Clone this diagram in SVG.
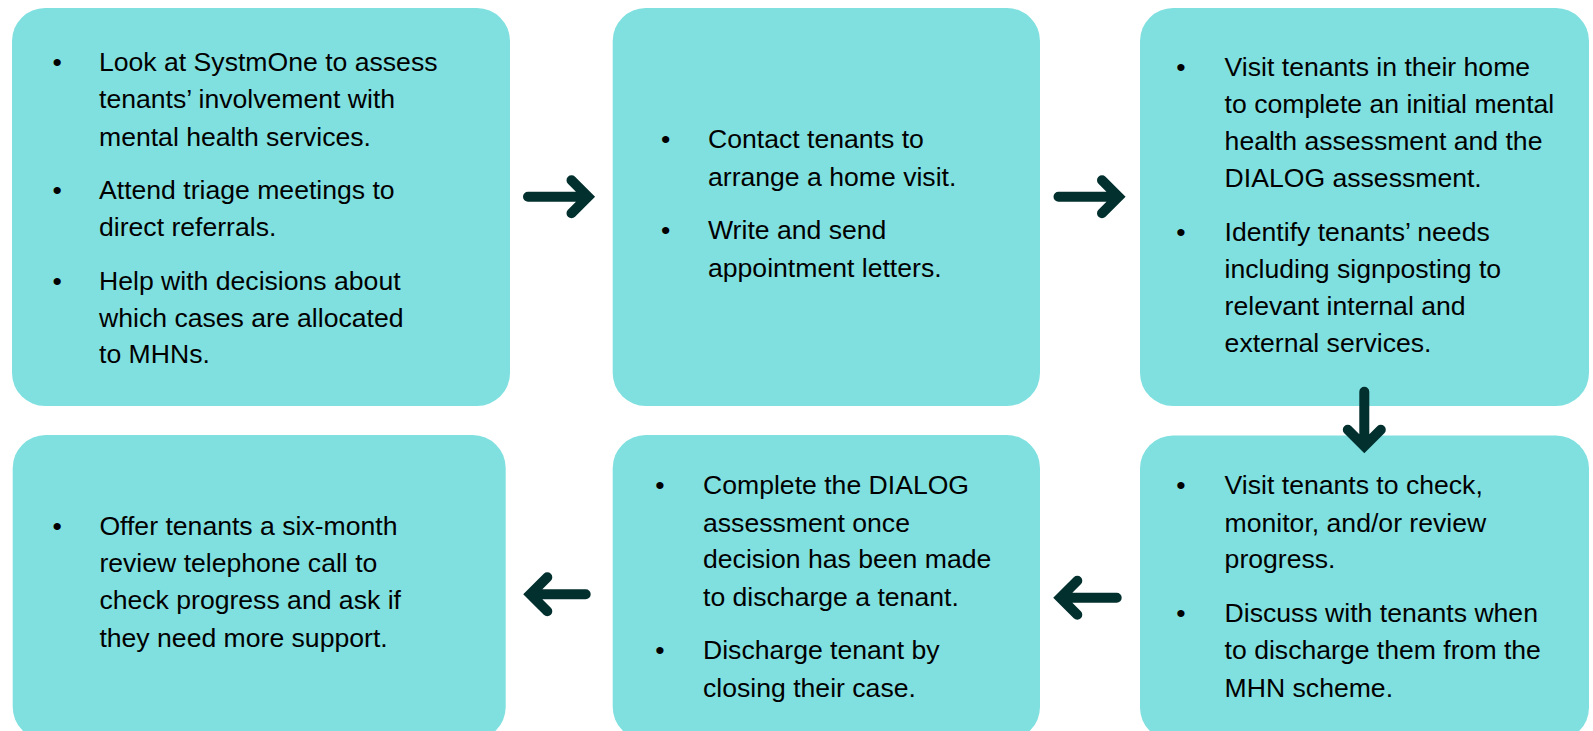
<svg xmlns="http://www.w3.org/2000/svg" width="1593" height="731" viewBox="0 0 1593 731">
<style>
.box{fill:#80E0E0}
.t{font-family:"Liberation Sans",Arial,sans-serif;font-size:26.6px;fill:#000}
.arr{fill:none;stroke:#02302E;stroke-width:10;stroke-linecap:round;stroke-linejoin:miter}
</style>
<rect width="1593" height="731" fill="#fff"/>
<g id="node1">
<rect class="box" x="12" y="8" width="498" height="398" rx="33"/>
<text class="t" x="52.6" y="71">•</text>
<text class="t" x="52.6" y="199.3">•</text>
<text class="t" x="52.6" y="290">•</text>
<text class="t" x="99"><tspan x="99" y="71">Look at SystmOne to assess</tspan><tspan x="99" y="108">tenants’ involvement with</tspan><tspan x="99" y="145.7">mental health services.</tspan><tspan x="99" y="199.3">Attend triage meetings to</tspan><tspan x="99" y="236">direct referrals.</tspan><tspan x="99" y="290">Help with decisions about</tspan><tspan x="99" y="326.7">which cases are allocated</tspan><tspan x="99" y="363.3">to MHNs.</tspan></text>
</g>
<g id="node2">
<rect class="box" x="612.7" y="8" width="427.3" height="398" rx="33"/>
<text class="t" x="661" y="148.3">•</text>
<text class="t" x="661" y="239.3">•</text>
<text class="t"><tspan x="708" y="148.3">Contact tenants to</tspan><tspan x="708" y="185.7">arrange a home visit.</tspan><tspan x="708" y="239.3">Write and send</tspan><tspan x="708" y="276.7">appointment letters.</tspan></text>
</g>
<g id="node3">
<rect class="box" x="1140" y="8" width="449" height="398" rx="33"/>
<text class="t" x="1176.3" y="76">•</text>
<text class="t" x="1176.3" y="240.7">•</text>
<text class="t"><tspan x="1224.6" y="76">Visit tenants in their home</tspan><tspan x="1224.6" y="112.7">to complete an initial mental</tspan><tspan x="1224.6" y="150">health assessment and the</tspan><tspan x="1224.6" y="187.3">DIALOG assessment.</tspan><tspan x="1224.6" y="240.7">Identify tenants’ needs</tspan><tspan x="1224.6" y="278.3">including signposting to</tspan><tspan x="1224.6" y="315">relevant internal and</tspan><tspan x="1224.6" y="352.3">external services.</tspan></text>
</g>
<g id="node4">
<rect class="box" x="12.7" y="435" width="493" height="305" rx="33"/>
<text class="t" x="52.6" y="535">•</text>
<text class="t"><tspan x="99.4" y="535">Offer tenants a six-month</tspan><tspan x="99.4" y="572.3">review telephone call to</tspan><tspan x="99.4" y="609.3">check progress and ask if</tspan><tspan x="99.4" y="646.7">they need more support.</tspan></text>
</g>
<g id="node5">
<rect class="box" x="612.7" y="435" width="427.3" height="305" rx="33"/>
<text class="t" x="655.3" y="494.3">•</text>
<text class="t" x="655.3" y="659.3">•</text>
<text class="t"><tspan x="703" y="494.3">Complete the DIALOG</tspan><tspan x="703" y="531.7">assessment once</tspan><tspan x="703" y="568.3">decision has been made</tspan><tspan x="703" y="605.7">to discharge a tenant.</tspan><tspan x="703" y="659.3">Discharge tenant by</tspan><tspan x="703" y="696.7">closing their case.</tspan></text>
</g>
<g id="node6">
<rect class="box" x="1140" y="435.5" width="449" height="305" rx="33"/>
<text class="t" x="1176.3" y="494.3">•</text>
<text class="t" x="1176.3" y="622.3">•</text>
<text class="t"><tspan x="1224.6" y="494.3">Visit tenants to check,</tspan><tspan x="1224.6" y="531.7">monitor, and/or review</tspan><tspan x="1224.6" y="568.3">progress.</tspan><tspan x="1224.6" y="622.3">Discuss with tenants when</tspan><tspan x="1224.6" y="659.3">to discharge them from the</tspan><tspan x="1224.6" y="696.7">MHN scheme.</tspan></text>
</g>
<g id="connectors">
<path class="arr" d="M528 196.7 H588 M571.5 180.2 L588 196.7 L571.5 213.2"/>
<path class="arr" d="M1058.5 196.7 H1118.5 M1102 180.2 L1118.5 196.7 L1102 213.2"/>
<path class="arr" d="M1364.3 391.7 V446.3 M1347.8 429.8 L1364.3 446.3 L1380.8 429.8"/>
<path class="arr" d="M1116.7 597.7 H1060.3 M1077.3 580.7 L1060.3 597.7 L1077.3 614.7"/>
<path class="arr" d="M585.7 594.3 H530.3 M547.3 577.3 L530.3 594.3 L547.3 611.3"/>
</g>
</svg>
